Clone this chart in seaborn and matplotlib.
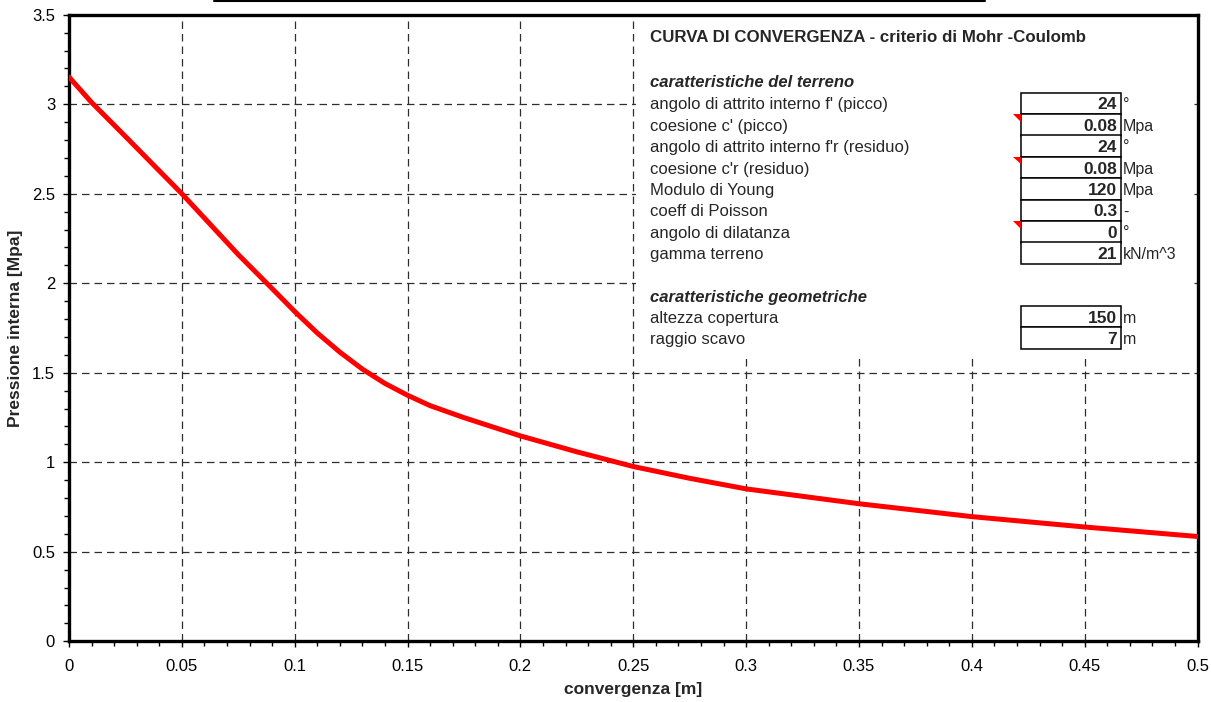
import matplotlib
matplotlib.use("Agg")
import numpy as np
import pandas as pd
import matplotlib.pyplot as plt
import seaborn as sns
from matplotlib.patches import Rectangle, Polygon
from matplotlib.lines import Line2D
from matplotlib.ticker import MultipleLocator, FuncFormatter

# ---------------- data ----------------
convergenza = [0, 0.01, 0.025, 0.05, 0.075, 0.09, 0.1, 0.11, 0.12, 0.13, 0.14, 0.15,
               0.16, 0.175, 0.2, 0.225, 0.25, 0.275, 0.3, 0.35, 0.4, 0.45, 0.5]
pressione = [3.152, 3.01, 2.82, 2.50, 2.16, 1.97, 1.842, 1.722, 1.615, 1.52, 1.44, 1.374,
             1.316, 1.249, 1.147, 1.058, 0.976, 0.91, 0.851, 0.768, 0.696, 0.638, 0.585]

titolo_tabella = "CURVA DI CONVERGENZA - criterio di Mohr -Coulomb"
sezione_terreno = "caratteristiche del terreno"
voci_terreno = ["angolo di attrito interno f' (picco)", "coesione c' (picco)",
                "angolo di attrito interno f'r (residuo)", "coesione c'r (residuo)",
                "Modulo di Young", "coeff di Poisson", "angolo di dilatanza",
                "gamma terreno"]
valori_terreno = ["24", "0.08", "24", "0.08", "120", "0.3", "0", "21"]
unita_terreno = ["°", "Mpa", "°", "Mpa", "Mpa", "-", "°", "kN/m^3"]
commenti_terreno = [False, True, False, True, False, False, True, False]
sezione_geo = "caratteristiche geometriche"
voci_geo = ["altezza copertura", "raggio scavo"]
valori_geo = ["150", "7"]
unita_geo = ["m", "m"]

# ---------------- style ----------------
sns.set_style("white")
plt.rcParams['font.family'] = ['Liberation Sans', 'DejaVu Sans']

W, H = 1211, 702
fig = plt.figure(figsize=(W / 100, H / 100), dpi=100)
fig.patch.set_facecolor("white")

L, R, T, B = 69, 1197.5, 14.7, 641.2
ax = fig.add_axes([L / W, 1 - B / H, (R - L) / W, (B - T) / H])

df = pd.DataFrame({"convergenza": convergenza, "pressione": pressione})
sns.lineplot(data=df, x="convergenza", y="pressione", ax=ax, color="#ff0000",
             linewidth=3.6, zorder=4)

ax.set_xlim(0, 0.5)
ax.set_ylim(0, 3.5)
ax.xaxis.set_major_locator(MultipleLocator(0.05))
ax.xaxis.set_minor_locator(MultipleLocator(0.01))
ax.yaxis.set_major_locator(MultipleLocator(0.5))
ax.yaxis.set_minor_locator(MultipleLocator(0.1))
fmt = FuncFormatter(lambda v, p: f"{round(v, 3):g}")
ax.xaxis.set_major_formatter(fmt)
ax.yaxis.set_major_formatter(fmt)

ax.set_axisbelow(True)
ax.grid(True, which='major', color='#2e2e2e', linestyle=(0, (6, 4)), linewidth=0.9)
for s in ax.spines.values():
    s.set_linewidth(2.4)
    s.set_color("black")
ax.tick_params(which='both', bottom=True, left=True, top=False, right=False,
               direction='out', color='black')
ax.tick_params(which='major', length=4, width=1, labelsize=12, colors='black')
ax.tick_params(which='minor', length=3.5, width=1)
ax.tick_params(axis='x', which='major', pad=9)
ax.tick_params(axis='y', which='major', pad=6)

ax.set_xlabel("convergenza [m]", fontsize=12.5, fontweight='bold')
ax.set_ylabel("Pressione interna [Mpa]", fontsize=12.5, fontweight='bold')
ax.xaxis.set_label_coords(0.5, -(682 - B) / (B - T))
ax.yaxis.set_label_coords(-(L - 23) / (R - L), 0.5)

# white table background over the grid
x0 = 0.25 + (636.5 - 633.3) / ((R - L) / 0.5)
x1 = (1190 - L) / ((R - L) / 0.5)
y0 = (B - 358) / ((B - T) / 3.5)
y1 = (B - 16.5) / ((B - T) / 3.5)
ax.add_patch(Rectangle((x0, y0), x1 - x0, y1 - y0, facecolor="white",
                       edgecolor="none", zorder=1.5))


def P(x, y):
    return (x / W, 1 - y / H)


def ftext(x, y, s, **kw):
    fig.text(*P(x, y + 1.5), s, transform=fig.transFigure, va='center', **kw)


TX = 650
FS = 12
ftext(TX, 36, titolo_tabella, fontsize=12.2, fontweight='bold')
ftext(TX, 81, sezione_terreno, fontsize=FS, fontweight='bold', style='italic')

BX0, BX1 = 1020.7, 1120.7
RH = 21.4


def righe(top, voci, valori, unita, commenti):
    for i, (v, val, u, c) in enumerate(zip(voci, valori, unita, commenti)):
        yt = top + i * RH
        yc = yt + RH / 2
        ftext(TX, yc, v, fontsize=FS)
        fig.patches.append(Rectangle(P(BX0, yt + RH), (BX1 - BX0) / W, RH / H,
                                     transform=fig.transFigure, facecolor='white',
                                     edgecolor='black', linewidth=1.1))
        ftext(BX1 - 3.5, yc, val, fontsize=FS + 0.5, fontweight='bold', ha='right')
        ftext(BX1 + 2.5, yc, u, fontsize=FS - 0.5)
        if c:
            fig.patches.append(Polygon([P(BX0 - 7.5, yt), P(BX0, yt), P(BX0, yt + 7.5)],
                                       closed=True, transform=fig.transFigure,
                                       facecolor='#ff0000', edgecolor='none'))


righe(92.7, voci_terreno, valori_terreno, unita_terreno, commenti_terreno)
ftext(TX, 295.5, sezione_geo, fontsize=FS, fontweight='bold', style='italic')
righe(306, voci_geo, valori_geo, unita_geo, [False, False])

# thin rule at the very top of the image
fig.lines.append(Line2D([214 / W, 985 / W], [1 - 1.2 / H, 1 - 1.2 / H],
                        transform=fig.transFigure, color='black', linewidth=1.5))

fig.savefig("out.png", dpi=100, facecolor="white")
